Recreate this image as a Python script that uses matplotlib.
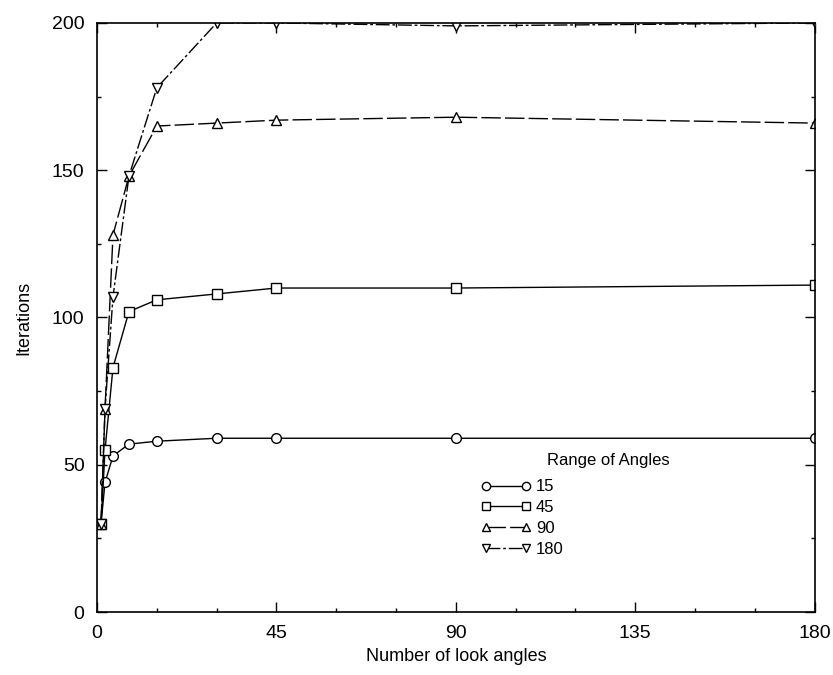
import matplotlib
matplotlib.use("Agg")
import matplotlib.pyplot as plt
from matplotlib.ticker import MultipleLocator

# ---- data ----
look_angles = [1, 2, 4, 8, 15, 30, 45, 90, 180]
iter_15 = [30, 44, 53, 57, 58, 59, 59, 59, 59]
iter_45 = [30, 55, 83, 102, 106, 108, 110, 110, 111]
iter_90 = [30, 69, 128, 148, 165, 166, 167, 168, 166]
iter_180 = [30, 69, 107, 148, 178, 200, 200, 199, 200]
series_labels = ["15", "45", "90", "180"]
x_ticks = [0, 45, 90, 135, 180]
y_ticks = [0, 50, 100, 150, 200]

plt.rcParams['font.family'] = ['Liberation Sans', 'DejaVu Sans']

fig = plt.figure(figsize=(8.33, 6.75), dpi=100)
ax = fig.add_axes([0.1165, 0.0933, 0.8615, 0.8727])

common = dict(color='black', lw=1.0, markerfacecolor='white', markeredgecolor='black',
              markersize=7, markeredgewidth=1.0)
ax.plot(look_angles, iter_15, marker='o', linestyle='-', label=series_labels[0], **common)
ax.plot(look_angles, iter_45, marker='s', linestyle='-', label=series_labels[1], **common)
ax.plot(look_angles, iter_90, marker='^', linestyle=(0, (14, 3)), label=series_labels[2], **common)
ax.plot(look_angles, iter_180, marker='v', linestyle=(0, (10, 2, 2, 2)), label=series_labels[3], **common)

ax.set_xlim(0, 180)
ax.set_ylim(0, 200)
ax.set_xticks(x_ticks)
ax.set_yticks(y_ticks)
ax.xaxis.set_minor_locator(MultipleLocator(15))
ax.yaxis.set_minor_locator(MultipleLocator(25))
ax.tick_params(which='both', direction='in', top=True, right=True, labelsize=14, width=1)
ax.tick_params(which='major', length=7, pad=9)
ax.tick_params(which='minor', length=3)
for s in ax.spines.values():
    s.set_linewidth(1.2)

ax.set_xlabel("Number of look angles", fontsize=13, labelpad=5)
ax.set_ylabel("Iterations", fontsize=13, labelpad=14)

leg = ax.legend(loc='upper left', bbox_to_anchor=(0.535, 0.225), frameon=False,
                fontsize=12, numpoints=2, handlelength=3.0, handletextpad=0.3,
                labelspacing=0.35, borderpad=0, borderaxespad=0, markerscale=0.85)
ax.text(0.627, 0.258, "Range of Angles", transform=ax.transAxes, fontsize=12,
        ha='left', va='center')

fig.savefig("out.png", dpi=100)
